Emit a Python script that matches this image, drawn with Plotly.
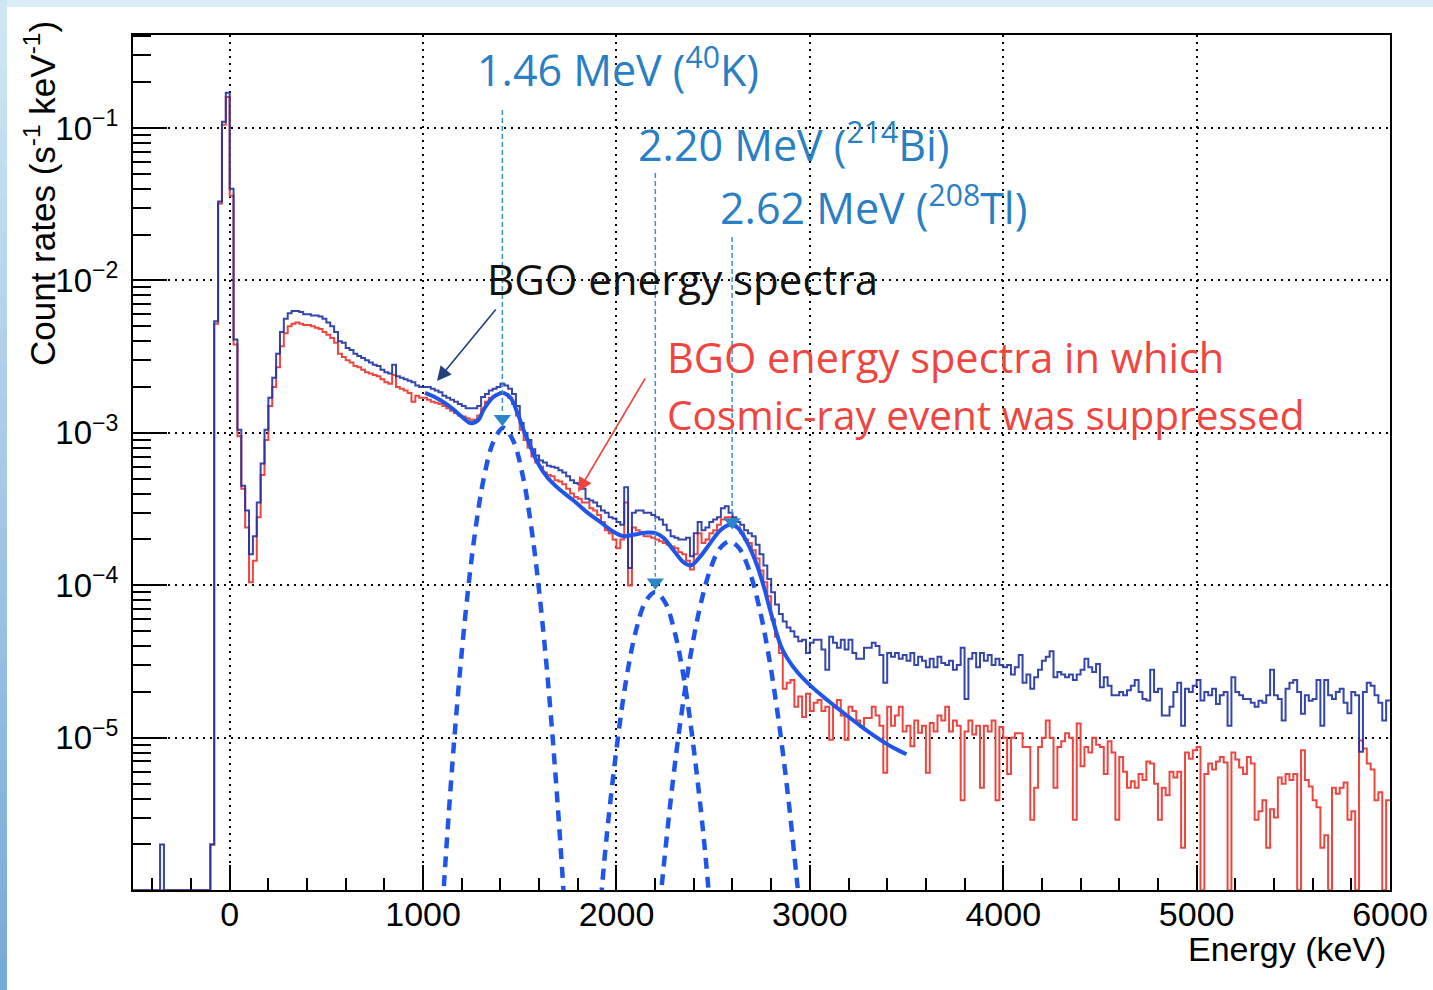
import plotly.graph_objects as go

# ---------------- data ----------------
BIN_START = -500   # keV, left edge of first bin
BIN_WIDTH = 20     # keV

# BGO energy spectrum, all events (s^-1 keV^-1), one value per 20 keV bin from -500 keV
all_events = [
    0, 0, 0, 0, 0, 0, 0, 2e-6, 0, 0,                                            # -500
    0, 0, 0, 0, 0, 0, 0, 0, 0, 0,                                               # -300
    2e-6, 5.4e-3, 3.3e-2, 1.1e-1, 1.7e-1, 4.0e-2, 4.1e-3, 1.05e-3, 4.5e-4, 3.1e-4,  # -100
    1.6e-4, 2.1e-4, 3.5e-4, 6.3e-4, 1.05e-3, 1.7e-3, 2.3e-3, 3.3e-3, 4.6e-3, 5.6e-3,  # 100
    6.1e-3, 6.3e-3, 6.3e-3, 6.2e-3, 6.0e-3, 6.0e-3, 5.9e-3, 5.9e-3, 5.8e-3, 5.6e-3,  # 300
    5.3e-3, 5.0e-3, 4.6e-3, 4.0e-3, 3.9e-3, 3.6e-3, 3.5e-3, 3.3e-3, 3.2e-3, 3.1e-3,  # 500
    3.0e-3, 2.9e-3, 2.8e-3, 2.75e-3, 2.6e-3, 2.5e-3, 2.45e-3, 2.8e-3, 2.35e-3, 2.3e-3,  # 700
    2.25e-3, 2.2e-3, 2.15e-3, 2.05e-3, 2.0e-3, 2.0e-3, 2.0e-3, 1.95e-3, 1.9e-3, 1.85e-3,  # 900
    1.75e-3, 1.7e-3, 1.65e-3, 1.6e-3, 1.55e-3, 1.5e-3, 1.45e-3, 1.45e-3, 1.45e-3, 1.5e-3,  # 1100
    1.72e-3, 1.8e-3, 1.9e-3, 1.95e-3, 2.0e-3, 2.1e-3, 2.05e-3, 1.95e-3, 1.8e-3, 1.5e-3,  # 1300
    1.16e-3, 1.0e-3, 9.0e-4, 7.8e-4, 7.1e-4, 6.6e-4, 6.4e-4, 6.1e-4, 6.0e-4, 5.9e-4,  # 1500
    5.7e-4, 5.5e-4, 5.2e-4, 4.9e-4, 4.7e-4, 4.6e-4, 4.3e-4, 3.7e-4, 3.6e-4, 3.5e-4,  # 1700
    3.3e-4, 3.1e-4, 3.0e-4, 2.8e-4, 2.75e-4, 2.6e-4, 2.5e-4, 4.4e-4, 1.3e-4, 3.0e-4,  # 1900
    3.1e-4, 3.1e-4, 3.0e-4, 3.0e-4, 2.9e-4, 2.8e-4, 2.7e-4, 2.5e-4, 2.3e-4, 2.1e-4,  # 2100
    2.05e-4, 2.0e-4, 2.0e-4, 2.05e-4, 1.55e-4, 2.2e-4, 2.6e-4, 2.3e-4, 2.4e-4, 2.6e-4,  # 2300
    2.7e-4, 2.8e-4, 3.2e-4, 3.3e-4, 3.0e-4, 2.8e-4, 2.6e-4, 2.5e-4, 2.3e-4, 2.2e-4,  # 2500
    2.1e-4, 1.85e-4, 1.6e-4, 1.35e-4, 1.1e-4, 9.0e-5, 7.5e-5, 6.5e-5, 5.8e-5, 5.3e-5,  # 2700
    5.0e-5, 4.6e-5, 4.3e-5, 4.4e-5, 3.6e-5, 4.2e-5, 4.4e-5, 4.4e-5, 3.8e-5, 2.8e-5,  # 2900
    4.6e-5, 4.2e-5, 3.9e-5, 4.4e-5, 3.8e-5, 4.4e-5, 3.6e-5, 3.3e-5, 3.3e-5, 3.9e-5,  # 3100
    3.9e-5, 4.2e-5, 4.0e-5, 3.5e-5, 2.3e-5, 3.6e-5, 3.4e-5, 3.6e-5, 3.3e-5, 3.5e-5,  # 3300
    3.2e-5, 3.6e-5, 3.0e-5, 3.4e-5, 3.2e-5, 2.9e-5, 3.3e-5, 2.9e-5, 3.4e-5, 3.1e-5,  # 3500
    3.0e-5, 3.2e-5, 2.8e-5, 3.0e-5, 3.9e-5, 1.8e-5, 3.3e-5, 3.6e-5, 2.9e-5, 3.6e-5,  # 3700
    3.2e-5, 3.5e-5, 3.0e-5, 3.3e-5, 3.0e-5, 2.9e-5, 3.0e-5, 2.6e-5, 2.9e-5, 3.5e-5,  # 3900
    2.3e-5, 2.6e-5, 2.1e-5, 2.5e-5, 2.8e-5, 3.2e-5, 3.4e-5, 3.7e-5, 2.5e-5, 2.7e-5,  # 4100
    2.6e-5, 2.5e-5, 2.6e-5, 2.4e-5, 2.6e-5, 2.8e-5, 3.3e-5, 2.9e-5, 2.7e-5, 3.05e-5,  # 4300
    2.15e-5, 2.5e-5, 2.2e-5, 1.9e-5, 1.9e-5, 2.0e-5, 1.9e-5, 2.05e-5, 2.2e-5, 2.4e-5,  # 4500
    2.0e-5, 1.8e-5, 1.76e-5, 2.8e-5, 2.0e-5, 2.1e-5, 1.4e-5, 1.4e-5, 1.6e-5, 2.0e-5,  # 4700
    2.3e-5, 1.2e-5, 2.1e-5, 2.0e-5, 2.2e-5, 2.4e-5, 1.76e-5, 2.0e-5, 1.9e-5, 2.1e-5,  # 4900
    1.67e-5, 1.9e-5, 2.0e-5, 1.2e-5, 2.5e-5, 2.0e-5, 1.9e-5, 1.8e-5, 1.8e-5, 1.7e-5,  # 5100
    1.6e-5, 1.75e-5, 1.7e-5, 1.9e-5, 2.8e-5, 1.9e-5, 1.8e-5, 1.3e-5, 2.1e-5, 2.3e-5,  # 5300
    2.4e-5, 2.0e-5, 1.44e-5, 1.9e-5, 1.75e-5, 1.8e-5, 2.4e-5, 1.2e-5, 2.4e-5, 1.9e-5,  # 5500
    1.8e-5, 2.0e-5, 2.1e-5, 1.7e-5, 1.45e-5, 2.0e-5, 1.9e-5, 8.1e-6, 2.0e-5, 2.3e-5,  # 5700
    2.2e-5, 1.9e-5, 1.7e-5, 1.3e-5, 1.76e-5,                                    # 5900
]

# BGO energy spectrum with cosmic-ray events suppressed
suppressed = [
    0, 0, 0, 0, 0, 0, 0, 0, 0, 0,                                               # -500
    0, 0, 0, 0, 0, 0, 0, 0, 0, 0,                                               # -300
    2e-6, 5.2e-3, 3.2e-2, 1.05e-1, 1.6e-1, 3.6e-2, 3.8e-3, 9.5e-4, 4.3e-4, 2.4e-4,  # -100
    1.05e-4, 1.45e-4, 2.8e-4, 5.3e-4, 9.0e-4, 1.5e-3, 2.0e-3, 2.7e-3, 3.7e-3, 4.5e-3,  # 100
    5.0e-3, 5.2e-3, 5.3e-3, 5.2e-3, 5.1e-3, 5.1e-3, 5.0e-3, 4.9e-3, 4.8e-3, 4.6e-3,  # 300
    4.4e-3, 4.2e-3, 3.9e-3, 3.3e-3, 3.15e-3, 3.0e-3, 2.9e-3, 2.75e-3, 2.7e-3, 2.6e-3,  # 500
    2.5e-3, 2.45e-3, 2.4e-3, 2.35e-3, 2.25e-3, 2.15e-3, 2.1e-3, 2.4e-3, 2.0e-3, 1.95e-3,  # 700
    1.9e-3, 1.83e-3, 1.6e-3, 1.75e-3, 1.7e-3, 1.7e-3, 1.65e-3, 1.6e-3, 1.58e-3, 1.55e-3,  # 900
    1.5e-3, 1.45e-3, 1.4e-3, 1.35e-3, 1.3e-3, 1.28e-3, 1.25e-3, 1.22e-3, 1.22e-3, 1.3e-3,  # 1100
    1.45e-3, 1.6e-3, 1.7e-3, 1.75e-3, 1.8e-3, 1.85e-3, 1.8e-3, 1.7e-3, 1.55e-3, 1.3e-3,  # 1300
    1.05e-3, 9.0e-4, 8.0e-4, 7.0e-4, 6.4e-4, 6.0e-4, 5.5e-4, 5.3e-4, 5.2e-4, 4.9e-4,  # 1500
    4.8e-4, 4.6e-4, 4.3e-4, 4.0e-4, 3.8e-4, 3.7e-4, 3.5e-4, 3.5e-4, 3.2e-4, 3.1e-4,  # 1700
    2.9e-4, 2.6e-4, 2.3e-4, 2.2e-4, 2.0e-4, 1.75e-4, 2.0e-4, 3.5e-4, 1.0e-4, 2.4e-4,  # 1900
    2.3e-4, 2.2e-4, 2.1e-4, 2.1e-4, 2.05e-4, 2.0e-4, 1.95e-4, 1.9e-4, 1.85e-4, 1.8e-4,  # 2100
    1.75e-4, 1.65e-4, 1.6e-4, 1.45e-4, 1.27e-4, 1.6e-4, 2.2e-4, 1.9e-4, 2.0e-4, 2.2e-4,  # 2300
    2.3e-4, 2.5e-4, 2.7e-4, 2.8e-4, 2.8e-4, 2.5e-4, 2.4e-4, 2.2e-4, 2.0e-4, 1.9e-4,  # 2500
    1.7e-4, 1.5e-4, 1.25e-4, 1.05e-4, 8.5e-5, 6.0e-5, 4.6e-5, 3.6e-5, 2.1e-5, 2.3e-5,  # 2700
    2.4e-5, 1.6e-5, 1.87e-5, 1.37e-5, 1.95e-5, 1.5e-5, 1.7e-5, 1.77e-5, 1.5e-5, 1.6e-5,  # 2900
    9.7e-6, 1.6e-5, 1.77e-5, 1.4e-5, 9.7e-6, 1.6e-5, 1.5e-5, 1.3e-5, 1.18e-5, 1.35e-5,  # 3100
    1.35e-5, 1.6e-5, 1.4e-5, 1.2e-5, 5.9e-6, 1.6e-5, 1.2e-5, 1.4e-5, 1.6e-5, 1.1e-5,  # 3300
    1.2e-5, 8.8e-6, 1.3e-5, 1.08e-5, 1.2e-5, 5.9e-6, 1.25e-5, 1.1e-5, 1.4e-5, 1.3e-5,  # 3500
    1.6e-5, 1.1e-5, 1.3e-5, 1.2e-5, 3.9e-6, 1.1e-5, 1.3e-5, 1.05e-5, 1.2e-5, 4.7e-6,  # 3700
    1.2e-5, 1.1e-5, 1.3e-5, 3.9e-6, 1.18e-5, 1.0e-5, 5.8e-6, 1.0e-5, 1.07e-5, 1.07e-5,  # 3900
    8.7e-6, 8.7e-6, 2.9e-6, 4.7e-6, 8.7e-6, 1.0e-5, 1.3e-5, 1.0e-5, 4.7e-6, 8.7e-6,  # 4100
    9.5e-6, 1.07e-5, 1.0e-5, 2.9e-6, 1.24e-5, 6.5e-6, 8.7e-6, 8.0e-6, 1.0e-5, 9.0e-6,  # 4300
    8.7e-6, 5.8e-6, 9.5e-6, 8.0e-6, 2.9e-6, 7.5e-6, 6.0e-6, 4.7e-6, 5.2e-6, 4.7e-6,  # 4500
    5.8e-6, 5.3e-6, 7.0e-6, 6.8e-6, 5.0e-6, 2.9e-6, 4.7e-6, 4.2e-6, 6.0e-6, 5.5e-6,  # 4700
    6.0e-6, 1.9e-6, 8.0e-6, 7.3e-6, 8.3e-6, 8.7e-6, 0, 5.8e-6, 6.8e-6, 6.2e-6,      # 4900
    7.0e-6, 7.5e-6, 6.9e-6, 0, 8.0e-6, 7.2e-6, 6.4e-6, 5.8e-6, 7.5e-6, 6.8e-6,      # 5100
    2.9e-6, 3.3e-6, 3.9e-6, 1.9e-6, 3.4e-6, 3.0e-6, 5.5e-6, 5.0e-6, 5.8e-6, 5.3e-6,  # 5300
    5.8e-6, 0, 8.3e-6, 5.3e-6, 4.8e-6, 3.9e-6, 3.5e-6, 1.9e-6, 2.3e-6, 0,           # 5500
    4.7e-6, 4.3e-6, 4.7e-6, 5.1e-6, 2.9e-6, 3.3e-6, 0, 9.6e-6, 8.5e-6, 6.8e-6,      # 5700
    6.2e-6, 3.9e-6, 4.4e-6, 0, 3.9e-6,                                          # 5900
]

# total fit curve (solid)
fit_keV = [1010, 1060, 1127, 1170, 1209, 1245, 1287, 1313, 1364, 1411, 1452, 1488, 1519,
           1556, 1592, 1643, 1711, 1778, 1850, 1917, 1984, 2036, 2088, 2160, 2202, 2243,
           2295, 2346, 2385, 2434, 2486, 2537, 2585, 2625, 2677, 2729, 2765, 2800, 2850,
           2885, 2935, 3003, 3090, 3173, 3261, 3349, 3432, 3500]
fit_rate = [1.83e-3, 1.72e-3, 1.53e-3, 1.38e-3, 1.25e-3, 1.16e-3, 1.22e-3, 1.42e-3, 1.72e-3,
            1.83e-3, 1.7e-3, 1.35e-3, 1.05e-3, 8.1e-4, 6.4e-4, 5.1e-4, 4.2e-4, 3.6e-4, 3.0e-4,
            2.6e-4, 2.25e-4, 2.1e-4, 2.15e-4, 2.22e-4, 2.2e-4, 2.05e-4, 1.7e-4, 1.42e-4,
            1.35e-4, 1.55e-4, 1.9e-4, 2.3e-4, 2.5e-4, 2.4e-4, 1.9e-4, 1.33e-4, 9.5e-5, 6.5e-5,
            4.0e-5, 3.3e-5, 2.7e-5, 2.2e-5, 1.77e-5, 1.46e-5, 1.2e-5, 1.0e-5, 8.6e-6, 7.8e-6]

# individual peak components (dashed)
k40_keV = [1096, 1116, 1166, 1216, 1266, 1316, 1366, 1416, 1466, 1516, 1566, 1616, 1666, 1716, 1736]
k40_rate = [6e-7, 1.56e-6, 1.16e-5, 5.9e-5, 2.1e-4, 5.2e-4, 8.9e-4, 1.08e-3, 8.9e-4, 5.2e-4,
            2.1e-4, 5.9e-5, 1.16e-5, 1.56e-6, 6e-7]
bi214_keV = [1920, 1950, 2000, 2050, 2100, 2150, 2200, 2250, 2300, 2350, 2400, 2450, 2480]
bi214_rate = [8.8e-7, 2.3e-6, 8.4e-6, 2.4e-5, 5.0e-5, 7.8e-5, 9.0e-5, 7.8e-5, 5.0e-5, 2.4e-5,
              8.4e-6, 2.3e-6, 8.8e-7]
tl208_keV = [2215, 2235, 2285, 2335, 2385, 2435, 2485, 2535, 2585, 2635, 2685, 2735, 2785,
             2835, 2885, 2935, 2955]
tl208_rate = [6.1e-7, 1.1e-6, 4.4e-6, 1.4e-5, 3.6e-5, 7.5e-5, 1.27e-4, 1.75e-4, 1.94e-4,
              1.75e-4, 1.27e-4, 7.5e-5, 3.6e-5, 1.4e-5, 4.4e-6, 1.1e-6, 6.1e-7]

# line markers for the three gamma lines
line_keV = [1410, 2201, 2598]
line_top = [0.131, 0.0507, 0.0193]
line_bottom = [1.35e-3, 1.14e-4, 2.81e-4]
line_mark = [1.24e-3, 1.05e-4, 2.6e-4]

# y tick labels
y_tickvals = [1e-5, 1e-4, 1e-3, 1e-2, 1e-1]
y_ticktext = ["10<sup>\u22125</sup>", "10<sup>\u22124</sup>", "10<sup>\u22123</sup>",
              "10<sup>\u22122</sup>", "10<sup>\u22121</sup>"]

Y_FLOOR = 1e-6  # empty bins drawn at the bottom of the frame

# ---------------- figure ----------------
W, H = 1433, 990
L, R, T, B = 133, 1390, 35, 890


def px(x):
    return (x - L) / (R - L)


def py(y):
    return (B - y) / (B - T)


def steps(vals):
    edges = [BIN_START + BIN_WIDTH * i for i in range(len(vals) + 1)]
    ys = [v if v > 0 else Y_FLOOR for v in vals]
    return edges, ys + [ys[-1]]


fig = go.Figure()

xr, yr = steps(suppressed)
fig.add_trace(go.Scatter(x=xr, y=yr, mode="lines", line=dict(shape="hv", color="#f0453f", width=2),
                         hoverinfo="skip", showlegend=False))
xb, yb = steps(all_events)
fig.add_trace(go.Scatter(x=xb, y=yb, mode="lines", line=dict(shape="hv", color="#1f32a3", width=2),
                         opacity=0.9, hoverinfo="skip", showlegend=False))

for kx, ky in [(k40_keV, k40_rate), (bi214_keV, bi214_rate), (tl208_keV, tl208_rate)]:
    fig.add_trace(go.Scatter(x=kx, y=ky, mode="lines",
                             line=dict(shape="spline", color="#1f55e8", width=4.5, dash="11px,8px"),
                             hoverinfo="skip", showlegend=False))

fig.add_trace(go.Scatter(x=fit_keV, y=fit_rate, mode="lines",
                         line=dict(shape="spline", color="#1f55e8", width=4),
                         hoverinfo="skip", showlegend=False))

for k, t, b in zip(line_keV, line_top, line_bottom):
    fig.add_trace(go.Scatter(x=[k, k], y=[t, b], mode="lines",
                             line=dict(color="#3a8fd2", width=1.5, dash="5px,3px"),
                             hoverinfo="skip", showlegend=False))
fig.add_trace(go.Scatter(x=line_keV, y=line_mark, mode="markers",
                         marker=dict(symbol="triangle-down", size=15, color="#2a86c8"),
                         hoverinfo="skip", showlegend=False))

axis_font = dict(family="Liberation Sans, Arial, sans-serif", size=34, color="black")
fig.update_xaxes(range=[-500, 6000], tick0=0, dtick=1000, ticks="inside", ticklen=25, tickwidth=2,
                 tickcolor="black", showline=True, mirror=True, linecolor="black", linewidth=2,
                 showgrid=True, gridcolor="black", gridwidth=1.5, griddash="2px,5px",
                 zeroline=False, tickfont=axis_font, automargin=False, ticklabelstandoff=-7,
                 minor=dict(dtick=200, ticks="inside", ticklen=12, tickwidth=1.5, tickcolor="black",
                            showgrid=False))
fig.update_yaxes(type="log", range=[-5.998, -0.39], tickmode="array", tickvals=y_tickvals,
                 ticktext=y_ticktext,
                 ticks="inside", ticklen=34, tickwidth=2, tickcolor="black",
                 showline=True, mirror=True, linecolor="black", linewidth=2,
                 showgrid=True, gridcolor="black", gridwidth=1.5, griddash="2px,5px",
                 zeroline=False, tickfont=dict(family="Liberation Sans, Arial, sans-serif", size=33,
                                               color="black"),
                 ticklabelstandoff=6, automargin=False,
                 minor=dict(dtick="D1", ticks="inside", ticklen=18, tickwidth=1.5, tickcolor="black",
                            showgrid=False))

ann_font = "Open Sans, Lato, sans-serif"
blue_txt = "#2a7fc4"
red_txt = "#f0453f"
texts = [
    ("1.46 MeV (<sup>40</sup>K)", 475, 67, blue_txt, 43),
    ("2.20 MeV (<sup>214</sup>Bi)", 636, 143, blue_txt, 43),
    ("2.62 MeV (<sup>208</sup>Tl)", 718, 205, blue_txt, 43),
    ("BGO energy spectra", 485, 278, "#111111", 42),
    ("BGO energy spectra in which", 665, 357, red_txt, 41.5),
    ("Cosmic-ray event was suppressed", 665, 414, red_txt, 40.5),
]
annotations = []
for txt, x, y, c, s in texts:
    annotations.append(dict(text=txt, x=px(x), y=py(y), xref="paper", yref="paper",
                            xanchor="left", yanchor="middle", showarrow=False,
                            font=dict(family=ann_font, size=s, color=c)))

# arrows
annotations.append(dict(text="", x=px(437), y=py(381), xref="paper", yref="paper",
                        ax=60, ay=-73, showarrow=True, arrowhead=2, arrowsize=1.8,
                        arrowwidth=1.6, arrowcolor="#23407e"))
annotations.append(dict(text="", x=px(578), y=py(492), xref="paper", yref="paper",
                        ax=68, ay=-115, showarrow=True, arrowhead=2, arrowsize=1.8,
                        arrowwidth=1.6, arrowcolor=red_txt))

# axis titles
annotations.append(dict(text="Energy (keV)", x=px(1388), y=py(949), xref="paper", yref="paper",
                        xanchor="right", yanchor="middle", showarrow=False,
                        font=dict(family="Liberation Sans, Arial, sans-serif", size=34, color="black")))
annotations.append(dict(text="Count rates (s<sup>-1</sup> keV<sup>-1</sup>)", x=px(40), y=py(194),
                        xref="paper", yref="paper", xanchor="center", yanchor="middle",
                        textangle=-90, showarrow=False,
                        font=dict(family="Liberation Sans, Arial, sans-serif", size=35, color="black")))

# light-blue slide frame
shapes = []
shapes.append(dict(type="rect", xref="paper", yref="paper", x0=px(0), x1=px(W), y0=py(0), y1=py(7),
                   fillcolor="#d9edf7", line=dict(width=0), layer="below"))
n = 30
c0 = (207, 230, 244)
c1 = (120, 170, 216)
for i in range(n):
    f = i / (n - 1)
    col = "rgb(%d,%d,%d)" % tuple(round(a + (b - a) * f) for a, b in zip(c0, c1))
    y0 = i * H / n
    y1 = (i + 1) * H / n
    shapes.append(dict(type="rect", xref="paper", yref="paper", x0=px(0), x1=px(7),
                       y0=py(y0), y1=py(y1), fillcolor=col, line=dict(width=0), layer="below"))

fig.update_layout(width=W, height=H, margin=dict(l=L, r=W - R, t=T, b=H - B),
                  paper_bgcolor="white", plot_bgcolor="white", showlegend=False,
                  annotations=annotations, shapes=shapes)

fig.write_html("out.html")
